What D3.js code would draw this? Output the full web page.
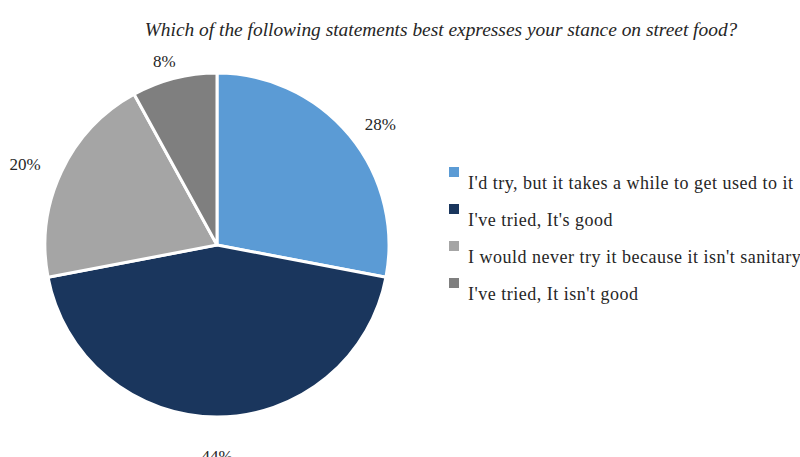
<!DOCTYPE html>
<html>
<head>
<meta charset="utf-8">
<style>
  body { margin: 0; background: #fff; }
  text { font-family: "Liberation Serif", "DejaVu Serif", serif; fill: #262626; }
</style>
</head>
<body>
<div id="chart"></div>
<script src="https://d3js.org/d3.v7.min.js"></script>
<script>
// Survey answers, clockwise from 12 o'clock
const answers = [
  "I'd try, but it takes a while to get used to it",
  "I've tried, It's good",
  "I would never try it because it isn't sanitary",
  "I've tried, It isn't good"
];
const shares = [28, 44, 20, 8];
const colors = ["#5b9bd5", "#1a365d", "#a5a5a5", "#7f7f7f"];
const title = "Which of the following statements best expresses your stance on street food?";

const width = 800, height = 457;
const cx = 217, cy = 245, radius = 172;

const svg = d3.select("#chart").append("svg")
  .attr("width", width)
  .attr("height", height);

svg.append("text")
  .attr("x", 441)
  .attr("y", 36)
  .attr("text-anchor", "middle")
  .style("font-style", "italic")
  .style("font-size", "19.4px")
  .text(title);

const data = answers.map((a, i) => ({ answer: a, share: shares[i], color: colors[i] }));

const pie = d3.pie().sort(null).value(d => d.share);
const arc = d3.arc().innerRadius(0).outerRadius(radius);

const g = svg.append("g").attr("transform", `translate(${cx}, ${cy})`);

const slices = pie(data);

g.selectAll("path")
  .data(slices)
  .enter().append("path")
  .attr("d", arc)
  .attr("fill", d => d.data.color)
  .attr("stroke", "#fff")
  .attr("stroke-width", 3);

// outside-end labels, pushed a bit further out below the pie
function labelPos(d) {
  const a = (d.startAngle + d.endAngle) / 2;
  const c = Math.cos(a);
  const ry = c > 0 ? 190 : 211;
  return [212 * Math.sin(a), -ry * c];
}

g.selectAll("text.pct")
  .data(slices)
  .enter().append("text")
  .attr("class", "pct")
  .attr("transform", d => `translate(${labelPos(d)})`)
  .attr("text-anchor", "middle")
  .attr("dy", "0.35em")
  .style("font-size", "17px")
  .text(d => d.data.share + "%");

// Legend
const legend = svg.append("g").attr("transform", "translate(449, 167)");
const rows = legend.selectAll("g")
  .data(data)
  .enter().append("g")
  .attr("transform", (d, i) => `translate(0, ${i * 37})`);

rows.append("rect")
  .attr("width", 10)
  .attr("height", 10)
  .attr("fill", d => d.color);

rows.append("text")
  .attr("x", 19)
  .attr("y", 22)
  .style("font-size", "18px")
  .style("letter-spacing", "0.5px")
  .text(d => d.answer);
</script>
</body>
</html>
